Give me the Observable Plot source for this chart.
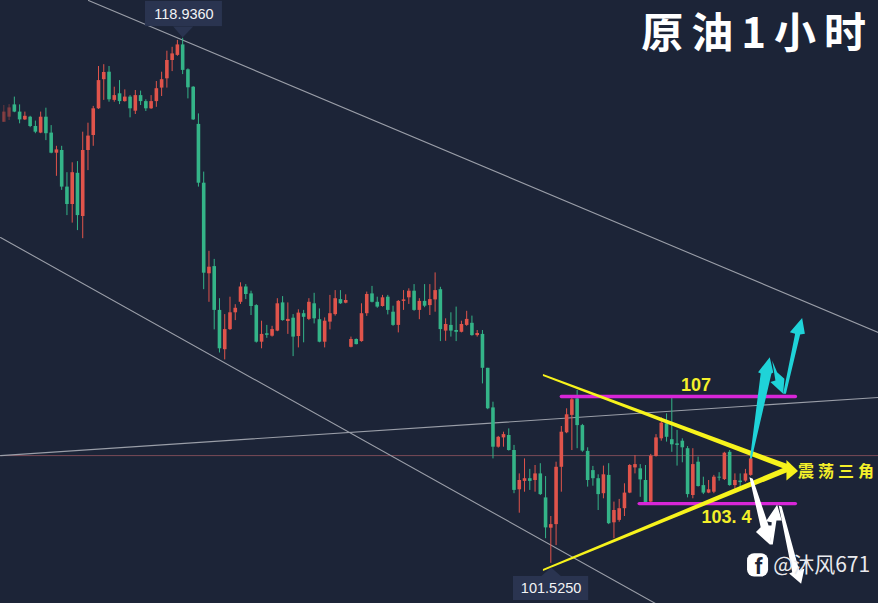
<!DOCTYPE html>
<html><head><meta charset="utf-8">
<script src="https://cdn.jsdelivr.net/npm/d3@7"></script>
<script src="https://cdn.jsdelivr.net/npm/@observablehq/plot@0.6"></script>
<style>
html,body{margin:0;padding:0;background:#1c2437;overflow:hidden}
svg{display:block}
.t1 text{letter-spacing:8px}
.t2 text{letter-spacing:4px}
</style></head><body><div id="c"></div>
<script>
const directions = "rrggrggrgg"+"rggrgrrrrr"+"grgrgrggrr"+"rrrrgggggr"+"ggrrrrgggr"+"grrgrgrgrg"+"grrrgrrgrr"+"ggrggrrrgr"+"grrgrggrrg"+"rgggrrggrr"+"grggrrrrrg"+"ggggrgrrrr"+"rggrrrgggg"+"grggrrgrgr"+"grr";
const highs = [116.80,116.83,117.08,116.82,116.58,116.44,116.28,116.58,116.71,116.13,115.44,115.44,114.56,114.89,114.93,115.91,116.21,116.77,118.10,118.16,118.10,117.41,117.63,117.32,117.13,117.30,117.28,116.99,117.13,117.60,117.91,118.61,118.74,118.97,119.04,118.02,117.43,116.52,114.58,
111.94,111.67,110.36,109.83,110.41,110.16,110.89,110.83,110.61,110.16,109.61,109.47,109.44,110.36,110.43,110.22,109.83,109.99,109.97,110.36,110.54,110.02,109.72,110.47,110.63,110.63,110.49,109.08,109.02,110.19,110.58,110.77,110.41,110.47,110.47,110.11,110.30,110.63,110.69,110.83,110.36,110.83,110.83,111.22,110.74,109.69,109.89,110.08,109.61,109.94,109.78,109.30,
109.30,108.04,106.91,105.77,105.91,106.02,105.47,104.52,105.02,104.67,104.80,104.86,104.43,103.10,104.91,106.10,106.69,107.13,107.30,106.17,105.39,104.77,104.49,104.78,104.86,103.58,103.67,104.19,104.83,105.13,
104.83,104.80,105.17,105.83,106.39,106.52,107.06,105.97,105.69,105.43,105.36,105.08,104.41,104.30,104.47,104.56,105.24,105.30,104.52,104.52,104.67,105.10];
const bodyTops = [116.58,116.72,116.82,116.58,116.44,116.41,116.10,116.41,116.41,115.88,115.32,115.30,114.08,114.56,114.54,115.30,115.78,116.69,117.63,117.90,117.91,117.13,117.19,117.08,117.08,117.13,117.13,116.93,116.93,117.36,117.66,118.30,118.52,118.82,118.82,117.99,117.41,116.17,114.21,
111.41,111.43,109.97,109.33,109.89,110.04,110.75,110.75,110.52,110.13,109.17,109.19,109.33,110.19,110.22,109.67,109.71,109.88,109.86,110.24,110.19,109.66,109.61,109.86,110.36,110.33,110.30,109.00,109.00,109.86,110.50,110.52,110.24,110.39,110.41,109.91,110.27,110.32,110.61,110.61,110.27,110.27,110.33,110.63,110.66,109.50,109.47,109.30,109.50,109.67,109.54,109.20,
109.17,108.04,106.72,105.74,105.83,105.80,105.30,104.30,104.36,104.36,104.52,104.52,103.72,102.83,104.74,105.91,106.49,106.99,107.02,106.13,105.27,104.63,104.36,104.49,104.47,103.30,103.36,103.88,104.80,104.83,
104.69,104.30,105.11,105.72,106.21,106.19,105.66,105.52,105.61,105.36,104.83,104.91,104.13,103.99,104.41,104.41,105.21,105.24,104.30,104.28,104.52,105.02];
const bodyBottoms = [116.24,116.41,116.58,116.32,116.32,116.10,115.91,115.88,115.86,115.21,115.21,114.08,113.50,113.50,113.13,113.10,115.30,115.80,116.69,117.66,116.99,116.97,116.93,116.93,116.69,116.61,116.93,116.69,116.69,116.93,117.38,117.69,118.30,118.47,117.97,117.39,116.32,114.21,111.21,
111.19,109.97,108.69,108.66,109.33,109.89,110.24,110.50,110.10,108.91,108.91,109.14,109.11,109.28,109.63,109.60,109.08,109.10,109.74,109.67,109.69,108.91,108.91,109.58,109.83,110.19,110.21,108.74,108.83,108.93,109.86,110.24,110.08,110.10,109.97,109.47,109.47,110.27,110.39,109.97,109.97,110.11,110.13,110.32,109.33,109.28,109.28,109.24,109.24,109.47,109.13,109.13,
108.04,106.69,105.41,105.41,105.72,105.30,103.97,103.99,104.27,104.27,104.30,103.83,102.72,102.71,102.83,104.74,105.89,106.47,106.13,105.28,104.30,104.36,103.83,103.86,102.86,102.89,102.97,103.36,103.88,104.72,
104.32,103.54,103.58,105.10,105.69,105.74,105.49,105.47,105.39,103.83,103.80,104.10,103.88,103.88,103.91,104.38,104.33,104.13,104.13,104.23,104.28,104.47];
const lows = [116.24,116.30,116.56,116.19,116.30,116.06,115.86,115.86,115.63,115.19,114.44,113.97,113.13,112.88,112.63,112.36,114.63,115.44,116.67,116.97,116.91,116.91,116.83,116.91,116.39,116.50,116.80,116.60,116.67,116.74,117.10,117.38,117.93,118.44,117.83,117.02,116.30,114.08,110.66,
110.24,109.32,108.55,108.32,109.30,109.63,110.17,110.33,109.80,108.88,108.69,109.04,109.08,109.26,109.61,109.17,108.43,108.72,108.89,109.63,109.52,108.89,108.72,109.32,109.78,110.17,110.19,108.72,108.82,108.91,109.77,110.22,110.04,110.08,109.82,109.44,109.22,109.97,110.17,109.94,109.66,110.06,109.80,109.91,108.93,108.94,109.08,108.93,109.22,109.44,109.11,109.08,
107.52,106.66,105.02,105.38,105.41,105.28,103.86,103.21,103.91,103.97,103.91,103.80,102.36,101.54,102.13,103.91,105.86,105.30,105.36,105.24,104.08,104.11,103.30,103.69,102.83,102.36,102.91,103.10,103.86,104.52,
103.74,103.54,103.54,105.08,105.61,105.58,105.24,104.78,104.89,103.72,103.69,104.08,103.83,103.86,103.86,104.28,104.30,104.11,103.91,103.97,104.24,104.44];

const upColor = "#e0544b", downColor = "#34b488", bg = "#1c2437";
const candles = highs.map((h,i)=>({i,high:h,low:lows[i],top:bodyTops[i],bottom:bodyBottoms[i],
  open: directions[i]==="r"?bodyBottoms[i]:bodyTops[i],
  close:directions[i]==="r"?bodyTops[i]:bodyBottoms[i],
  color:directions[i]==="r"?upColor:downColor,
  opacity:i<2?0.4:1}));

const channelUpper = [[16.1,120.3],[166.3,109.23]];
const channelLower = [[-0.63,112.4],[123.9,100.2]];
const channelMid   = [[-0.63,105.13],[166.3,107.07]];
const priceLevel = 105.13;
const resist = {x1:106,x2:150.5,y:107.1,label:"107"};
const support = {x1:120.8,x2:150.5,y:103.53,label:"103. 4"};
const wedgeTop = [{x:102.6,y1:107.77,y2:107.83},{x:149.6,y1:104.6,y2:104.8}];
const wedgeBottom = [{x:102.6,y1:101.27,y2:101.33},{x:149.6,y1:104.6,y2:104.8}];

const poly = (pts)=>pts.map(([x,y])=>({x,y}));
const cyanArrows = [
 [[141.86,105.03],[143.9,107.87],[143.4,107.91],[145.62,108.41],[146.3,107.9],[145.95,107.87],[142.2,105.03]],
 [[146.08,108.3],[147.02,107.91],[148.41,107.69],[148.17,107.19],[145.75,107.58],[146.7,107.63]],
 [[148.17,107.19],[150.45,109.19],[149.45,109.24],[151.78,109.72],[152.3,109.19],[151.4,109.17],[148.7,107.19]]
];
const whiteArrows = [
 [[141.76,104.41],[143.9,102.74],[143.0,102.58],[145.63,102.17],[146.2,102.8],[145.4,102.8],[142.4,104.36]],
 [[145.63,102.17],[146.0,102.91],[144.9,102.94],[147.03,103.49],[147.9,102.97],[146.9,102.97],[146.2,102.17]],
 [[147.33,103.47],[149.9,101.24],[149.3,101.2],[151.59,100.86],[152.2,101.36],[151.2,101.32],[147.9,103.43]]
];
const boxTop = {x1:26.93,x2:41.57,y1:119.43,y2:120.27,text:"118.9360",tx:34.25,ty:119.85};
const boxBottom = {x1:96.9,x2:111.2,y1:100.3,y2:101.1,text:"101.5250",tx:104.05,ty:100.7};
const pointerTop = [[32.2,119.43],[34.0,119.07],[36,119.43]];
const pointerBottom = [[102.1,101.1],[104.05,101.4],[106.0,101.1]];

const f = "Roboto, Arial, sans-serif", cjk = "'Noto Sans CJK SC', sans-serif", yel="#f4ef2a";
const arial = "Arial, 'Liberation Sans', sans-serif";
const txt = (t,x,y,o)=>Plot.text([t],{x:()=>x,y:()=>y,text:d=>d,...o});

const plot = Plot.plot({
  width:878,height:603,margin:0,
  style:{background:bg,fontFamily:f},
  x:{type:"linear",domain:[-0.633,166.3],range:[0,878],axis:null},
  y:{type:"linear",domain:[100.2,120.3],range:[603,0],axis:null},
  marks:[
    Plot.ruleY([priceLevel],{stroke:"#7a4a57",strokeWidth:1}),
    ...[channelUpper,channelLower,channelMid].map(l=>Plot.line(poly(l),{x:"x",y:"y",stroke:"#9a9ea8",strokeWidth:1.1})),
    Plot.ruleX(candles,{x:"i",y1:"low",y2:"high",stroke:"color",strokeOpacity:"opacity",strokeWidth:1}),
    Plot.ruleX(candles,{x:"i",y1:"bottom",y2:"top",stroke:"color",strokeOpacity:"opacity",strokeWidth:3.6}),
    Plot.line(poly([[resist.x1,resist.y],[resist.x2,resist.y]]),{x:"x",y:"y",stroke:"#d826d8",strokeWidth:3.4}),
    Plot.line(poly([[support.x1,support.y],[support.x2,support.y]]),{x:"x",y:"y",stroke:"#d826d8",strokeWidth:3.4}),
    Plot.areaY(wedgeTop,{x:"x",y1:"y1",y2:"y2",fill:"#f7f31c"}),
    Plot.areaY(wedgeBottom,{x:"x",y1:"y1",y2:"y2",fill:"#f7f31c"}),
    Plot.line(poly([[148.8,104.98],[151,104.62],[148.8,104.3]]),{x:"x",y:"y",fill:"#f7f31c",stroke:"none"}),
    ...whiteArrows.map(a=>Plot.line(poly(a),{x:"x",y:"y",fill:"#ffffff",stroke:"none"})),
    ...cyanArrows.map(a=>Plot.line(poly(a),{x:"x",y:"y",fill:"#1fd3d8",stroke:"none"})),
    Plot.rect([boxTop,boxBottom],{x1:"x1",x2:"x2",y1:"y1",y2:"y2",fill:"#2a3450"}),
    Plot.line(poly(pointerTop),{x:"x",y:"y",fill:"#2a3450",stroke:"none"}),
    Plot.line(poly(pointerBottom),{x:"x",y:"y",fill:"#2a3450",stroke:"none"}),
    Plot.text([boxTop,boxBottom],{x:"tx",y:"ty",text:"text",fill:"#f2f3f5",fontSize:14.5,fontFamily:arial}),
    txt(resist.label,131.6,107.47,{fill:yel,fontSize:18,fontWeight:700,fontFamily:arial}),
    txt(support.label,137.4,103.07,{fill:yel,fontSize:18,fontWeight:700,fontFamily:arial}),
    txt("震荡三角",151,104.6,{fill:yel,fontSize:16,fontWeight:700,fontFamily:cjk,textAnchor:"start",className:"t2"}),
    txt("原油1小时",121.2,119.17,{fill:"#ffffff",fontSize:42,fontWeight:700,fontFamily:cjk,textAnchor:"start",className:"t1"}),
    Plot.rect([{x1:141.4,x2:145.4,y1:101.08,y2:101.86}],{x1:"x1",x2:"x2",y1:"y1",y2:"y2",fill:"#ffffff",rx:7}),
    txt("f",143.5,101.42,{fill:"#1c2437",fontSize:22,fontWeight:700,fontFamily:f}),
    txt("@沐风671",146.3,101.47,{fill:"#e9eaee",fontSize:21,fontFamily:cjk,textAnchor:"start"})
  ]
});
document.getElementById("c").append(plot);
</script></body></html>
